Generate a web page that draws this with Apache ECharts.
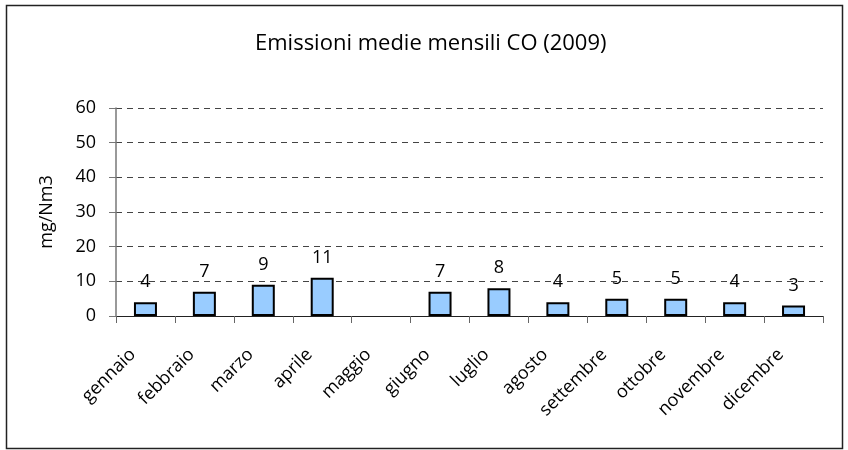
<!DOCTYPE html>
<html>
<head>
<meta charset="utf-8">
<script src="https://cdn.jsdelivr.net/npm/echarts@6/dist/echarts.min.js"></script>
<style>
  html, body { margin: 0; padding: 0; background: #fff; }
  #chart { width: 848px; height: 450px; }
</style>
</head>
<body>
<div id="chart"></div>
<script>
const months = ['gennaio', 'febbraio', 'marzo', 'aprile', 'maggio', 'giugno',
  'luglio', 'agosto', 'settembre', 'ottobre', 'novembre', 'dicembre'];
const coValues = [4, 7, 9, 11, null, 7, 8, 4, 5, 5, 4, 3];
const yTicks = { min: 0, max: 60, interval: 10 };

const font = 'Open Sans';
const chart = echarts.init(document.getElementById('chart'));
chart.setOption({
  animation: false,
  textStyle: { fontFamily: font },
  title: {
    text: 'Emissioni medie mensili CO (2009)',
    left: 250,
    top: 28,
    textStyle: { fontFamily: font, fontSize: 22, fontWeight: 'normal', color: '#000' }
  },
  graphic: [{
    type: 'rect',
    shape: { x: 6.5, y: 5.5, width: 836, height: 443 },
    style: { fill: 'none', stroke: '#222', lineWidth: 1.5 },
    silent: true
  }],
  grid: { left: 116, right: 25, top: 108, bottom: 134 },
  xAxis: {
    type: 'category',
    data: months,
    axisLine: { lineStyle: { color: '#222', width: 1 } },
    axisTick: { show: true, length: 7, lineStyle: { color: '#666' } },
    axisLabel: {
      rotate: 45, margin: 23, fontSize: 18, color: '#000', fontFamily: font,
      interval: 0, padding: [0, 18, 0, 0]
    }
  },
  yAxis: {
    type: 'value',
    min: yTicks.min,
    max: yTicks.max,
    interval: yTicks.interval,
    name: 'mg/Nm3',
    nameLocation: 'middle',
    nameGap: 60,
    nameTextStyle: { fontSize: 18, color: '#000', fontFamily: font },
    axisLine: { show: true, lineStyle: { color: '#777', width: 1.5 } },
    axisTick: { show: true, length: 7, lineStyle: { color: '#777' } },
    axisLabel: { margin: 20, fontSize: 18, color: '#000', fontFamily: font },
    splitLine: { lineStyle: { color: '#444', type: [6, 5], width: 1 } }
  },
  series: [{
    type: 'bar',
    data: coValues,
    barWidth: 23,
    itemStyle: { color: '#99CCFF', borderColor: '#000', borderWidth: 2 },
    label: {
      show: true,
      position: 'top',
      distance: 11,
      fontSize: 18,
      color: '#000',
      fontFamily: font
    }
  }]
});
</script>
</body>
</html>
